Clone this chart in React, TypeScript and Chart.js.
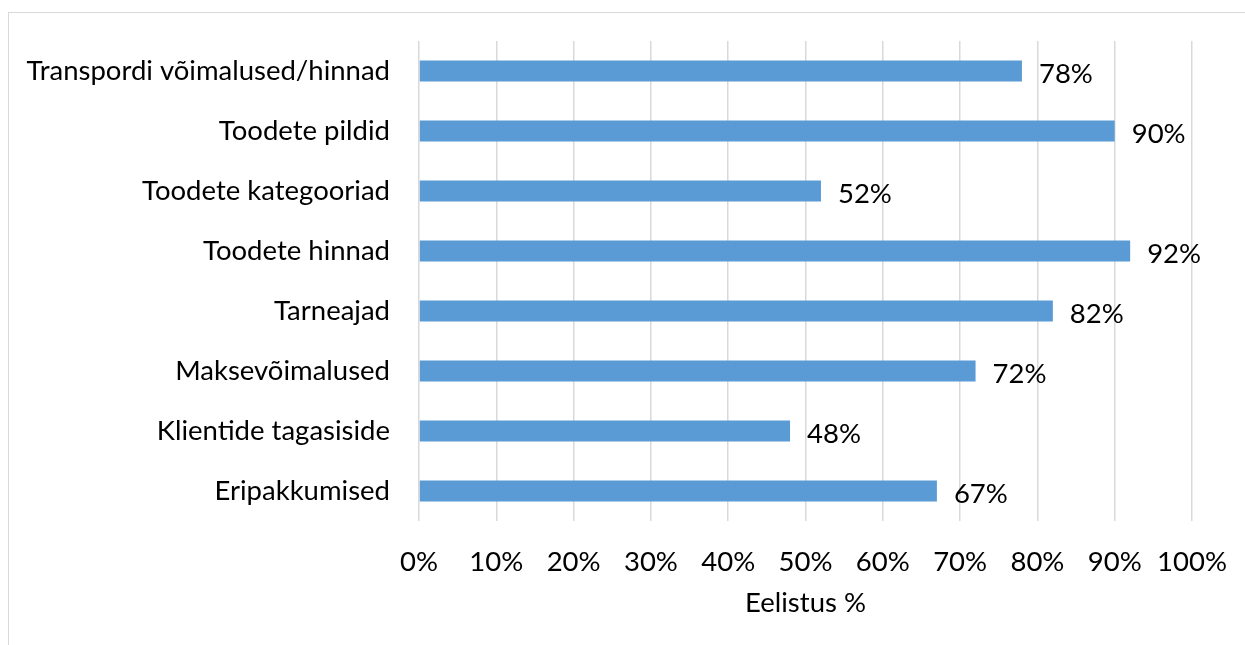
import React, { useEffect, useRef } from "react";
import { Chart, registerables } from "chart.js";

Chart.register(...registerables);

const categories = [
  "Transpordi võimalused/hinnad",
  "Toodete pildid",
  "Toodete kategooriad",
  "Toodete hinnad",
  "Tarneajad",
  "Maksevõimalused",
  "Klientide tagasiside",
  "Eripakkumised",
];
const values = [78, 90, 52, 92, 82, 72, 48, 67];
const xTicks = [0, 10, 20, 30, 40, 50, 60, 70, 80, 90, 100];
const xTitle = "Eelistus %";

const FONT = "Lato, 'Open Sans', sans-serif";
const FS = 27.5;

const labelPlugin = {
  id: "barLabels",
  afterDatasetsDraw(chart: any) {
    const ctx = chart.ctx;
    const meta = chart.getDatasetMeta(0);
    ctx.save();
    ctx.font = `${FS}px ${FONT}`;
    ctx.fillStyle = "#000";
    ctx.textAlign = "left";
    ctx.textBaseline = "middle";
    meta.data.forEach((bar: any, i: number) => {
      ctx.fillText(`${values[i]}%`, bar.x + 17, bar.y + 3);
    });
    ctx.restore();
  },
};

function zeroPad(scale: any) {
  scale.paddingTop = 0;
  scale.paddingBottom = 0;
  scale.paddingLeft = 0;
  scale.paddingRight = 0;
}

export default function App() {
  const ref = useRef<HTMLCanvasElement | null>(null);
  useEffect(() => {
    if (!ref.current) return;
    const chart = new Chart(ref.current, {
      type: "bar",
      data: {
        labels: categories,
        datasets: [
          {
            data: values,
            backgroundColor: "#5B9BD5",
            barPercentage: 0.35,
            categoryPercentage: 1,
          },
        ],
      },
      options: {
        indexAxis: "y",
        animation: false,
        responsive: false,
        maintainAspectRatio: false,
        layout: { padding: { left: 0, top: 28, right: 53, bottom: 0 } },
        plugins: { legend: { display: false }, tooltip: { enabled: false } },
        scales: {
          x: {
            min: 0,
            max: 100,
            afterBuildTicks(scale: any) {
              scale.ticks = xTicks.map((v) => ({ value: v }));
            },
            afterFit(scale: any) {
              scale.height = 124;
              zeroPad(scale);
            },
            grid: { color: "#D9D9D9", lineWidth: 1.5, drawTicks: false },
            border: { display: false },
            ticks: {
              padding: 25,
              color: "#000",
              font: { family: FONT, size: FS },
              callback: (v: any) => `${v}%`,
            },
            title: {
              display: true,
              text: xTitle,
              color: "#000",
              font: { family: FONT, size: FS },
              padding: { top: 0, bottom: 25 },
            },
          },
          y: {
            afterFit(scale: any) {
              scale.width = 410;
              zeroPad(scale);
            },
            grid: { display: false, drawTicks: false },
            border: { display: false },
            ticks: {
              padding: 29,
              color: "#000",
              font: { family: FONT, size: FS },
            },
          },
        },
      },
      plugins: [labelPlugin],
    });
    return () => chart.destroy();
  }, []);

  return (
    <div
      style={{
        position: "fixed",
        left: 8,
        top: 12,
        width: 1240,
        height: 640,
        borderTop: "1px solid #D9D9D9",
        borderLeft: "1px solid #D9D9D9",
        background: "#fff",
      }}
    >
      <canvas ref={ref} width={1236} height={632} style={{ display: "block" }} />
    </div>
  );
}
